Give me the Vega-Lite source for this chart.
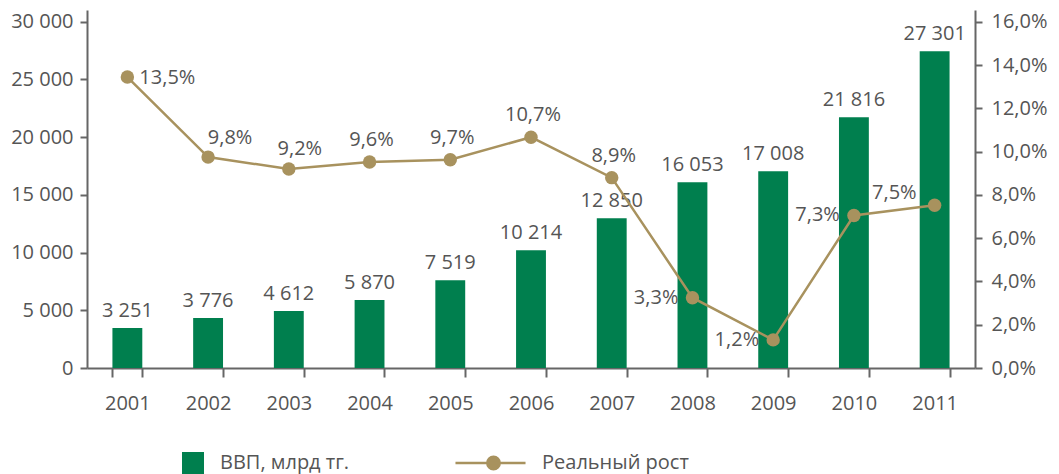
{
  "$schema": "https://vega.github.io/schema/vega-lite/v6.json",
  "autosize": {"type": "none"},
  "padding": {"left": 87, "top": 10, "right": 84, "bottom": 106},
  "width": 888,
  "height": 358,
  "data": {
    "values": [
      {"year": "2001", "gdp": 3460, "gdp_label": "3 251", "growth": 13.45, "growth_label": "13,5%"},
      {"year": "2002", "gdp": 4330, "gdp_label": "3 776", "growth": 9.75, "growth_label": "9,8%"},
      {"year": "2003", "gdp": 4930, "gdp_label": "4 612", "growth": 9.2, "growth_label": "9,2%"},
      {"year": "2004", "gdp": 5880, "gdp_label": "5 870", "growth": 9.52, "growth_label": "9,6%"},
      {"year": "2005", "gdp": 7600, "gdp_label": "7 519", "growth": 9.63, "growth_label": "9,7%"},
      {"year": "2006", "gdp": 10200, "gdp_label": "10 214", "growth": 10.67, "growth_label": "10,7%"},
      {"year": "2007", "gdp": 12970, "gdp_label": "12 850", "growth": 8.8, "growth_label": "8,9%"},
      {"year": "2008", "gdp": 16080, "gdp_label": "16 053", "growth": 3.25, "growth_label": "3,3%"},
      {"year": "2009", "gdp": 17040, "gdp_label": "17 008", "growth": 1.3, "growth_label": "1,2%"},
      {"year": "2010", "gdp": 21720, "gdp_label": "21 816", "growth": 7.05, "growth_label": "7,3%"},
      {"year": "2011", "gdp": 27420, "gdp_label": "27 301", "growth": 7.52, "growth_label": "7,5%"}
    ]
  },
  "encoding": {
    "x": {
      "field": "year",
      "type": "ordinal",
      "scale": {"paddingInner": 0.63, "paddingOuter": 0.315},
      "axis": {
        "title": null,
        "labelAngle": 0,
        "tickBand": "extent",
        "tickSize": 9,
        "labelPadding": 16
      }
    }
  },
  "layer": [
    {
      "encoding": {
        "y": {
          "field": "gdp",
          "type": "quantitative",
          "scale": {"domain": [0, 31000], "nice": false},
          "axis": {
            "title": null,
            "orient": "left",
            "values": [0, 5000, 10000, 15000, 20000, 25000, 30000],
            "labelExpr": "replace(format(datum.value, ',d'), ',', ' ')",
            "tickSize": 7,
            "labelPadding": 7
          }
        }
      },
      "layer": [
        {
          "mark": {"type": "bar"},
          "encoding": {
            "fill": {
              "datum": "ВВП, млрд тг.",
              "type": "nominal",
              "scale": {"range": ["#007f4e"]},
              "legend": {
                "orient": "none",
                "legendX": 95,
                "legendY": 442,
                "title": null,
                "padding": 0,
                "symbolType": "square",
                "symbolSize": 484,
                "symbolStrokeWidth": 0,
                "labelFont": "Open Sans",
                "labelFontSize": 20,
                "labelColor": "#555555",
                "labelOffset": 16
              }
            }
          }
        },
        {
          "mark": {"type": "text", "baseline": "alphabetic", "align": "center", "dy": -11},
          "encoding": {"text": {"field": "gdp_label"}}
        }
      ]
    },
    {
      "encoding": {
        "y": {
          "field": "growth",
          "type": "quantitative",
          "scale": {"domain": [0, 16.55], "nice": false},
          "axis": {
            "title": null,
            "orient": "right",
            "values": [0, 2, 4, 6, 8, 10, 12, 14, 16],
            "labelExpr": "replace(format(datum.value, '.1f'), '.', ',') + '%'",
            "tickSize": 7,
            "labelPadding": 9
          }
        }
      },
      "layer": [
        {
          "mark": {"type": "line", "strokeWidth": 2.5},
          "encoding": {
            "stroke": {
              "datum": "Реальный рост",
              "type": "nominal",
              "scale": {"range": ["#a8925e"]},
              "legend": {
                "orient": "none",
                "legendX": 396.5,
                "legendY": 443,
                "title": null,
                "padding": 0,
                "symbolType": "M-5.07,0H4.27M-0.83,0A0.83,0.83,0,1,1,0.83,0A0.83,0.83,0,1,1,-0.83,0Z",
                "symbolSize": 225,
                "symbolStrokeWidth": 2.5,
                "symbolFillColor": "#a8925e",
                "labelFont": "Open Sans",
                "labelFontSize": 20,
                "labelColor": "#555555",
                "labelOffset": 38.5,
                "encode": {"symbols": {"update": {"fill": {"value": "#a8925e"}, "stroke": {"value": "#a8925e"}, "strokeWidth": {"value": 2.5}}}}
              }
            }
          }
        },
        {
          "mark": {"type": "circle", "size": 180, "color": "#a8925e", "opacity": 1},
          "encoding": {}
        },
        {
          "transform": [{"filter": "indexof(['2004','2005','2006','2007'], datum.year) >= 0"}],
          "mark": {"type": "text", "baseline": "alphabetic", "align": "center", "dx": 2, "dy": -16},
          "encoding": {"text": {"field": "growth_label"}}
        },
        {
          "transform": [{"filter": "datum.year == '2002'"}],
          "mark": {"type": "text", "baseline": "alphabetic", "align": "center", "dx": 22, "dy": -13},
          "encoding": {"text": {"field": "growth_label"}}
        },
        {
          "transform": [{"filter": "datum.year == '2003'"}],
          "mark": {"type": "text", "baseline": "alphabetic", "align": "center", "dx": 11, "dy": -14},
          "encoding": {"text": {"field": "growth_label"}}
        },
        {
          "transform": [{"filter": "datum.year == '2001'"}],
          "mark": {"type": "text", "baseline": "alphabetic", "align": "left", "dx": 12, "dy": 7},
          "encoding": {"text": {"field": "growth_label"}}
        },
        {
          "transform": [{"filter": "indexof(['2008','2009','2010'], datum.year) >= 0"}],
          "mark": {"type": "text", "baseline": "alphabetic", "align": "right", "dx": -14, "dy": 6},
          "encoding": {"text": {"field": "growth_label"}}
        },
        {
          "transform": [{"filter": "datum.year == '2011'"}],
          "mark": {"type": "text", "baseline": "alphabetic", "align": "right", "dx": -18, "dy": -6},
          "encoding": {"text": {"field": "growth_label"}}
        }
      ]
    }
  ],
  "resolve": {"scale": {"y": "independent", "fill": "independent", "stroke": "independent"}},
  "config": {
    "font": "Open Sans",
    "view": {"stroke": null},
    "axis": {
      "grid": false,
      "domainColor": "#666666",
      "domainWidth": 2,
      "tickColor": "#666666",
      "tickWidth": 2,
      "labelFont": "Open Sans",
      "labelFontSize": 20,
      "labelColor": "#555555"
    },
    "text": {"font": "Open Sans", "fontSize": 20, "fill": "#555555"}
  }
}
